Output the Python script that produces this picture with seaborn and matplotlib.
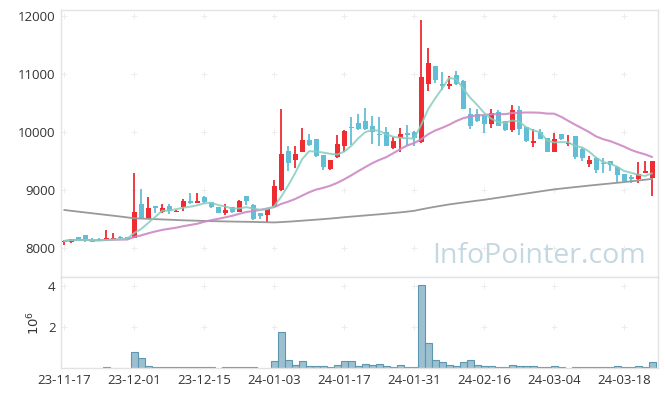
import numpy as np
import pandas as pd
import matplotlib
matplotlib.use("Agg")
import matplotlib.pyplot as plt
import seaborn as sns

# KRX closed days inside the window
holidays = ["2023-12-25", "2023-12-29", "2024-01-01", "2024-02-09", "2024-02-12", "2024-03-01"]

opens = [8100, 8110, 8190, 8225, 8140, 8160, 8130, 8150, 8185, 8185,
         8180, 8760, 8520, 8700, 8620, 8720, 8620, 8700, 8810, 8780,
         8880, 8800, 8700, 8600, 8700, 8625, 8890, 8740, 8600, 8560,
         8710, 9000, 9670, 9510, 9660, 9860, 9880, 9600, 9360, 9560,
         9750, 10085, 10160, 10190, 10100, 9965, 9995, 9725, 9890, 9965,
         10000, 9820, 10830, 11140, 10825, 10795, 10980, 10870, 10310, 10310,
         10275, 10130, 10340, 10180, 10035, 10380, 10080, 9810, 10005, 9890,
         9660, 9965, 9785, 9930, 9710, 9450, 9555, 9470, 9490, 9400,
         9270, 9210, 9190, 9300, 9200]
highs = [8130, 8160, 8195, 8230, 8170, 8170, 8310, 8265, 8200, 8190,
         9300, 9010, 8870, 8720, 8750, 8760, 8650, 8850, 8950, 8950,
         8890, 8800, 8710, 8750, 8710, 8830, 8900, 8750, 8610, 8680,
         9170, 10390, 9750, 9760, 10070, 9960, 9880, 9610, 9520, 9950,
         10030, 10250, 10310, 10420, 10280, 10250, 10080, 9920, 10070, 10120,
         10010, 11930, 11445, 11140, 11025, 10960, 11050, 10900, 10410, 10390,
         10280, 10400, 10370, 10190, 10465, 10450, 10090, 10050, 10050, 9900,
         9980, 9970, 9950, 9935, 9720, 9590, 9560, 9550, 9500, 9410,
         9275, 9250, 9475, 9490, 9500]
lows = [8050, 8090, 8130, 8110, 8095, 8120, 8125, 8140, 8130, 8145,
        8170, 8500, 8510, 8600, 8600, 8580, 8615, 8640, 8760, 8770,
        8760, 8690, 8600, 8570, 8600, 8620, 8740, 8490, 8505, 8455,
        8700, 8990, 9330, 9380, 9650, 9760, 9570, 9345, 9350, 9550,
        9660, 9780, 10030, 10040, 9800, 9765, 9760, 9700, 9660, 9770,
        9750, 9810, 10700, 10850, 10725, 10740, 10800, 10390, 10050, 10170,
        9980, 10065, 10100, 10020, 9990, 9950, 9830, 9740, 9870, 9650,
        9650, 9860, 9750, 9540, 9490, 9400, 9290, 9290, 9320, 9145,
        9140, 9120, 9120, 9290, 8900]
closes = [8120, 8150, 8140, 8150, 8100, 8130, 8170, 8175, 8170, 8150,
          8620, 8520, 8690, 8690, 8690, 8630, 8645, 8810, 8780, 8810,
          8800, 8700, 8610, 8660, 8620, 8815, 8810, 8500, 8545, 8670,
          9070, 9620, 9470, 9620, 9860, 9770, 9580, 9390, 9515, 9790,
          10020, 10060, 10050, 10050, 9990, 9940, 9765, 9840, 9960, 9950,
          9900, 10940, 11190, 10900, 10795, 10825, 10830, 10400, 10100, 10180,
          10135, 10330, 10110, 10025, 10380, 10050, 9840, 9835, 9880, 9660,
          9875, 9875, 9815, 9560, 9545, 9515, 9345, 9445, 9430, 9260,
          9155, 9190, 9275, 9325, 9490]
# volume in millions of shares
volumes = [0, 0, 0, 0, 0, 0, 0.05, 0, 0, 0,
           0.77, 0.47, 0.12, 0.05, 0.05, 0.05, 0.05, 0.05, 0.05, 0.05,
           0.05, 0.05, 0, 0.05, 0.05, 0.05, 0.05, 0.05, 0, 0,
           0.32, 1.77, 0.37, 0.17, 0.32, 0.12, 0.12, 0.12, 0.07, 0.17,
           0.32, 0.32, 0.12, 0.22, 0.17, 0.22, 0.12, 0.07, 0.17, 0.07,
           0.07, 4.07, 1.22, 0.37, 0.27, 0.17, 0.12, 0.27, 0.37, 0.17,
           0.12, 0.12, 0.05, 0.05, 0.17, 0.12, 0.12, 0.12, 0.07, 0.07,
           0.12, 0.07, 0, 0.05, 0.05, 0.05, 0.05, 0.05, 0.05, 0.12,
           0.05, 0.05, 0.12, 0.05, 0.27]
# long moving average (needs history before the window)
ma_long = [8655, 8640, 8626, 8612, 8598, 8584, 8570, 8556, 8542, 8527,
           8512, 8507, 8502, 8497, 8492, 8487, 8482, 8477, 8473, 8470,
           8466, 8463, 8460, 8458, 8455, 8453, 8451, 8449, 8446, 8443,
           8440, 8446, 8453, 8461, 8470, 8479, 8488, 8497, 8507, 8518,
           8530, 8540, 8550, 8560, 8570, 8580, 8591, 8602, 8613, 8626,
           8640, 8665, 8688, 8710, 8730, 8750, 8767, 8783, 8799, 8815,
           8830, 8848, 8866, 8884, 8902, 8920, 8938, 8956, 8974, 8992,
           9010, 9023, 9036, 9049, 9062, 9075, 9087, 9099, 9111, 9123,
           9135, 9149, 9162, 9176, 9190]

UP = "#ee2c31"
DOWN = "#62bed6"
SPINE = "#e2e2e2"
CROSS = "#ededed"
TEXT = "#333333"


def build_frame():
    dates = pd.bdate_range("2023-11-17", periods=len(closes), freq="C", holidays=holidays)
    df = pd.DataFrame({"date": dates, "open": opens, "high": highs, "low": lows,
                       "close": closes, "volume": volumes, "ma_long": ma_long})
    df["idx"] = np.arange(len(df))
    df["ma5"] = df["close"].rolling(5, min_periods=1).mean()
    df["ma20"] = df["close"].rolling(20, min_periods=1).mean()
    return df


def style_axes(ax):
    for side in ["left", "right", "top", "bottom"]:
        ax.spines[side].set_color(SPINE)
        ax.spines[side].set_linewidth(1)
    ax.tick_params(length=0, colors=TEXT, labelsize=9.5, pad=4)


def draw_candles(ax, df):
    up = df["close"] >= df["open"]
    colors = np.where(up, UP, DOWN)
    ax.vlines(df["idx"], df["low"], df["high"], colors=colors, lw=1.3, zorder=2)
    bottom = df[["open", "close"]].min(axis=1)
    height = (df["close"] - df["open"]).abs().clip(lower=25)
    ax.bar(df["idx"], height, bottom=bottom, width=0.72, color=colors, lw=0, zorder=3)


def main():
    df = build_frame()

    sns.set_style("white")
    plt.rcParams["font.family"] = ["Open Sans", "DejaVu Sans"]

    fig = plt.figure(figsize=(6.65, 3.96), dpi=100)
    ax = fig.add_axes([61 / 665, 1 - 277 / 396, 597 / 665, 267 / 396])
    ax2 = fig.add_axes([61 / 665, 1 - 368 / 396, 597 / 665, 91 / 396], sharex=ax)

    xticks = list(range(0, len(df), 10))
    yticks = [8000, 9000, 10000, 11000, 12000]

    # faint "+" marks at grid crossings
    gx, gy = np.meshgrid(xticks, yticks)
    ax.scatter(gx.ravel(), gy.ravel(), marker="+", s=16, color=CROSS, lw=0.7, zorder=0)
    gx2, gy2 = np.meshgrid(xticks, [2, 4])
    ax2.scatter(gx2.ravel(), gy2.ravel(), marker="+", s=16, color=CROSS, lw=0.7, zorder=0)

    draw_candles(ax, df)

    sns.lineplot(data=df, x="idx", y="ma_long", ax=ax, color="#999999", lw=1.3, zorder=4)
    sns.lineplot(data=df, x="idx", y="ma20", ax=ax, color="#cc88c6", lw=1.5, alpha=0.9, zorder=4)
    sns.lineplot(data=df, x="idx", y="ma5", ax=ax, color="#86cdbf", lw=1.4, alpha=0.85, zorder=4)

    ax.set_xlim(-0.45, 84.85)
    ax.set_ylim(7500, 12100)
    ax.set_yticks(yticks)
    ax.set_yticklabels([str(v) for v in yticks])
    ax.set_xlabel("")
    ax.set_ylabel("")
    ax.tick_params(axis="x", labelbottom=False)
    style_axes(ax)

    vol = df[df["volume"] > 0]
    ax2.bar(vol["idx"], vol["volume"], width=1.0, color="#9cc0d0",
            edgecolor="#5d96b0", lw=0.8, zorder=2)
    ax2.set_ylim(0, 4.45)
    ax2.set_yticks([2, 4])
    ax2.set_yticklabels(["2", "4"])
    ax2.set_ylabel("$10^{6}$", color=TEXT, fontsize=9.5, labelpad=4)
    ax2.set_xticks(xticks)
    ax2.set_xticklabels(df["date"].iloc[xticks].dt.strftime("%y-%m-%d"))
    ax2.set_xlabel("")
    style_axes(ax2)

    fig.text(0.81, 0.354, "InfoPointer.com", ha="center", va="center",
             fontsize=20.5, color="#c5d8e2", family=["Open Sans", "DejaVu Sans"])

    fig.savefig("out.png", dpi=100)
    plt.close(fig)


if __name__ == "__main__":
    main()
